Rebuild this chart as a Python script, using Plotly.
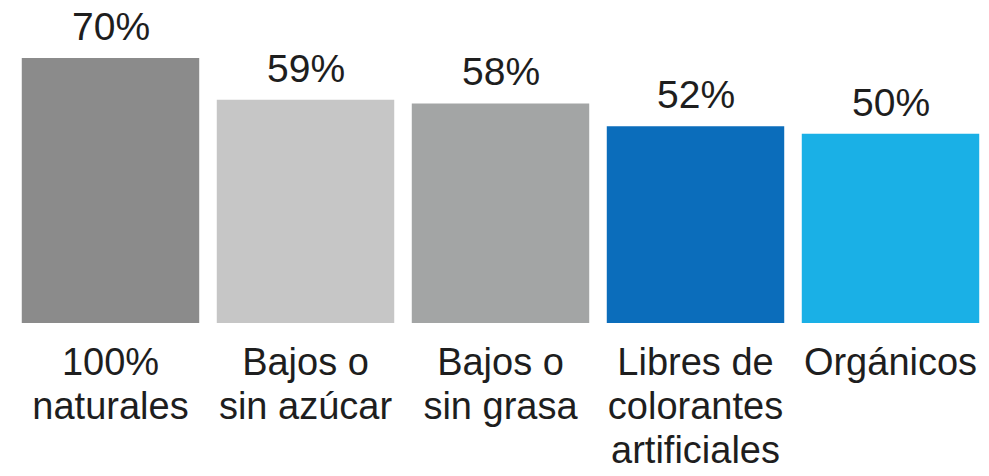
import plotly.graph_objects as go

categories = ["100%<br>naturales", "Bajos o<br>sin azúcar", "Bajos o<br>sin grasa",
              "Libres de<br>colorantes<br>artificiales", "Orgánicos"]
values = [70, 59, 58, 52, 50]
labels = ["70%", "59%", "58%", "52%", "50%"]
colors = ["#8b8b8b", "#c6c6c6", "#a3a5a5", "#0b6dbb", "#1ab0e6"]

# tick text: lines sized at 38px, line spacing driven by the 34px base font
ticktext = ["<br>".join(f"<span style='font-size:38px'>{ln}</span>" for ln in c.split("<br>"))
            for c in categories]

fig = go.Figure(go.Bar(
    x=categories, y=values, marker=dict(color=colors, line=dict(width=0)),
    width=0.91, hoverinfo="skip",
))

for c, v, t in zip(categories, values, labels):
    fig.add_annotation(x=c, y=v, text=t, showarrow=False, yanchor="bottom",
                       yshift=8, font=dict(family="Liberation Sans, Arial", size=39, color="#1e1e1e"))

fig.update_layout(
    width=989, height=476,
    margin=dict(l=13, r=1, t=58, b=153),
    paper_bgcolor="white", plot_bgcolor="white",
    showlegend=False,
    font=dict(family="Liberation Sans, Arial", size=34, color="#1e1e1e"),
    bargap=0.09,
)
fig.update_xaxes(showline=False, showgrid=False, zeroline=False, ticks="",
                 tickmode="array", tickvals=categories, ticktext=ticktext,
                 tickfont=dict(size=34, color="#1e1e1e"), ticklabelstandoff=17,
                 automargin=False)
fig.update_yaxes(range=[0, 70], visible=False, automargin=False)

fig.write_html("out.html")
